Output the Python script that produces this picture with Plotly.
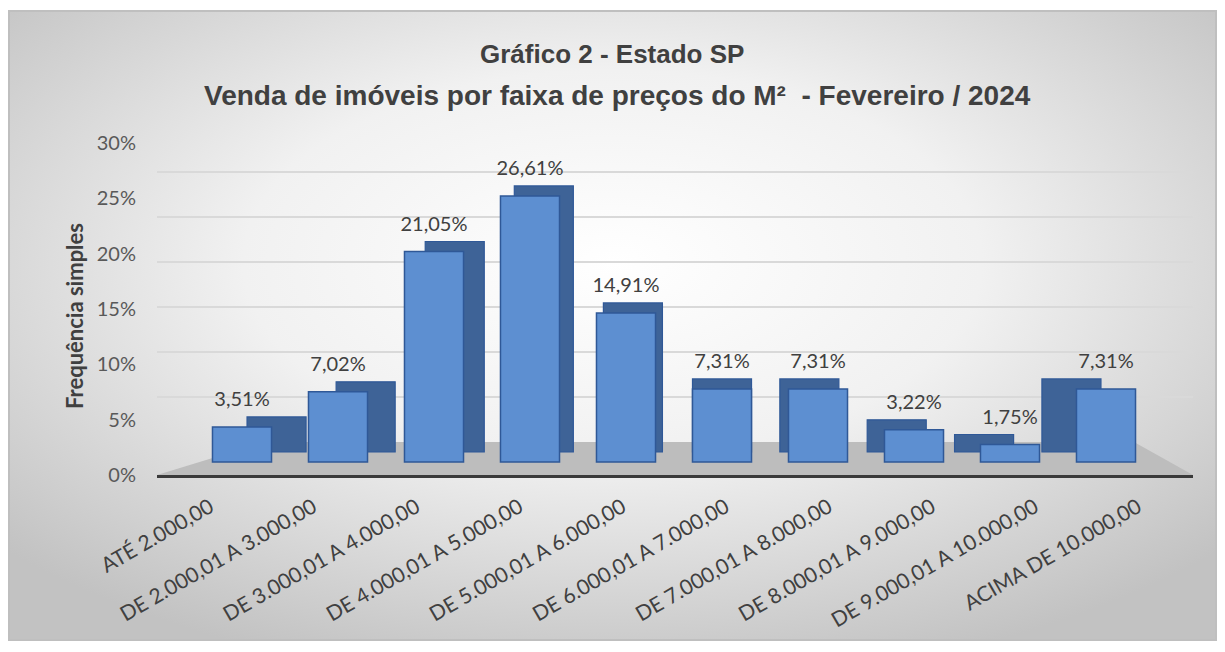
import base64
import plotly.graph_objects as go

# ---------------- data ----------------
categories = [
    "ATÉ 2.000,00",
    "DE 2.000,01 A 3.000,00",
    "DE 3.000,01 A 4.000,00",
    "DE 4.000,01 A 5.000,00",
    "DE 5.000,01 A 6.000,00",
    "DE 6.000,01 A 7.000,00",
    "DE 7.000,01 A 8.000,00",
    "DE 8.000,01 A 9.000,00",
    "DE 9.000,01 A 10.000,00",
    "ACIMA DE 10.000,00",
]
values = [3.51, 7.02, 21.05, 26.61, 14.91, 7.31, 7.31, 3.22, 1.75, 7.31]
y_ticks = [0, 5, 10, 15, 20, 25, 30]
y_tick_text = ["0%", "5%", "10%", "15%", "20%", "25%", "30%"]

title1 = "Gráfico 2 - Estado SP"
title2 = "Venda de imóveis por faixa de preços do M²  - Fevereiro / 2024"
y_title = "Frequência simples"

# ---------------- styling helpers ----------------
n = len(categories)
idx = list(range(n))
labels = [f"{v:.2f}".replace(".", ",") + "%" for v in values]

bar_w = 0.615
depth_dx = [(5 - i) * (0.072 if i <= 5 else 0.09) for i in idx]
depth_dy = 1.0

FRONT = "#5d8fd1"
DEPTH = "#3e6397"
EDGE = "#2f5897"
TXT = "#404040"
FONT = "Lato"

# page body has an 8px margin -> figure is drawn 8px right/down of the window origin
OFF = 8
W, H = 1225 - 2 * OFF, 652 - 2 * OFF
# plot area in window pixels
L, R, T, B = 157, 1193, 143, 475
pw, ph = R - L, B - T


def px(xw):
    return (xw - L) / pw


def py(yw):
    return (B - yw) / ph


fig = go.Figure()

# depth (3-D side/top) bars
fig.add_trace(go.Bar(
    x=idx, y=values, base=[depth_dy] * n, width=bar_w,
    offset=[-bar_w / 2 + d for d in depth_dx],
    marker=dict(color=DEPTH, line=dict(color=EDGE, width=1.2)),
    hoverinfo="skip", showlegend=False,
))
# front faces
fig.add_trace(go.Bar(
    x=idx, y=values, width=bar_w, offset=-bar_w / 2,
    marker=dict(color=FRONT, line=dict(color=EDGE, width=1.5)),
    showlegend=False, hovertext=categories, hoverinfo="text+y",
))
# data labels
fig.add_trace(go.Scatter(
    x=idx, y=[v + 1.6 for v in values], mode="text", text=labels,
    textposition="top center",
    textfont=dict(family=FONT, size=20, color=TXT),
    hoverinfo="skip", showlegend=False,
))
# invisible helpers for overlay axes (category labels / tick labels / grid)
fig.add_trace(go.Scatter(x=idx, y=[0] * n, xaxis="x2", yaxis="y2", mode="markers",
                         marker=dict(opacity=0), hoverinfo="skip", showlegend=False))
fig.add_trace(go.Scatter(x=[0], y=[0], xaxis="x", yaxis="y3", mode="markers",
                         marker=dict(opacity=0), hoverinfo="skip", showlegend=False))

# background gradient (chart area frame)
fx0, fy0, fx1, fy1 = 8, 10, 1217, 641
svg = (
    f'<svg xmlns="http://www.w3.org/2000/svg" width="{fx1-fx0}" height="{fy1-fy0}" preserveAspectRatio="none">'
    '<defs><radialGradient id="g" cx="50%" cy="40%" r="68%">'
    '<stop offset="0" stop-color="#ffffff"/><stop offset="0.45" stop-color="#f1f1f1"/>'
    '<stop offset="1" stop-color="#c2c2c2"/></radialGradient></defs>'
    f'<rect x="1" y="1" width="{fx1-fx0-2}" height="{fy1-fy0-2}" fill="url(#g)" stroke="#bfbfbf" stroke-width="2"/></svg>'
)
src = "data:image/svg+xml;base64," + base64.b64encode(svg.encode()).decode()
fig.add_layout_image(dict(
    source=src, xref="paper", yref="paper",
    x=px(fx0), y=py(fy0), sizex=(fx1 - fx0) / pw, sizey=(fy1 - fy0) / ph,
    xanchor="left", yanchor="top", sizing="stretch", layer="below",
))

# floor
fig.add_shape(type="path", xref="paper", yref="paper", layer="below",
              path=f"M 0 0 L 1 0 L {px(1134)} {py(442)} L {px(265)} {py(442)} Z",
              fillcolor="#bdbdbd", line=dict(width=0))

# titles
fig.add_annotation(text=f"<b>{title1}</b>", xref="paper", yref="paper",
                   x=px(612), y=py(54), showarrow=False, xanchor="center", yanchor="middle",
                   font=dict(family="Liberation Sans", size=26, color=TXT))
fig.add_annotation(text=f"<b>{title2}</b>", xref="paper", yref="paper",
                   x=px(617), y=py(95), showarrow=False, xanchor="center", yanchor="middle",
                   font=dict(family="Liberation Sans", size=28, color=TXT))
fig.add_annotation(text=f"<b>{y_title}</b>", xref="paper", yref="paper",
                   x=px(74), y=py(316), showarrow=False, textangle=-90,
                   xanchor="center", yanchor="middle",
                   font=dict(family=FONT, size=22, color=TXT))

# bar axis geometry: bar i centre at 242 + 96*i px
bx0, bstep = 242, 96
# label axis geometry: label i end at 210 + 103.1*i px
lx0, lstep = 210, 103.1

fig.update_layout(
    width=W, height=H,
    margin=dict(l=L - OFF, r=W - (R - OFF), t=T - OFF, b=H - (B - OFF), pad=0),
    paper_bgcolor="white", plot_bgcolor="rgba(0,0,0,0)",
    barmode="overlay", showlegend=False,
    xaxis=dict(range=[-(bx0 - L) / bstep, (R - bx0) / bstep], showticklabels=False,
               showgrid=False, zeroline=False, showline=True, linecolor="#3a3a3a",
               linewidth=3, ticks="", fixedrange=True),
    xaxis2=dict(overlaying="x", side="bottom", anchor="y",
                range=[-(lx0 - L) / lstep, (R - lx0) / lstep],
                tickvals=idx, ticktext=categories, tickangle=-30,
                ticklabelstandoff=15,
                tickfont=dict(family=FONT, size=21, color=TXT),
                showgrid=False, zeroline=False, showline=False, ticks=""),
    yaxis=dict(range=[-(B - 462) / 10, (462 - T) / 10], showticklabels=False,
               showgrid=False, zeroline=False, ticks=""),
    yaxis2=dict(overlaying="y", side="left", anchor="x", range=[0, 30],
                tickvals=y_ticks, ticktext=y_tick_text, ticklabelstandoff=20,
                tickfont=dict(family=FONT, size=20, color="#595959"),
                showgrid=False, zeroline=False, ticks=""),
    yaxis3=dict(overlaying="y", side="left", anchor="x",
                range=[-(B - 442) / 9, (442 - T) / 9],
                tickvals=y_ticks[1:], showticklabels=False,
                showgrid=True, gridcolor="#d9d9d9", gridwidth=1.5,
                zeroline=False, ticks=""),
    font=dict(family=FONT, color=TXT),
)

fig.write_html("out.html")
